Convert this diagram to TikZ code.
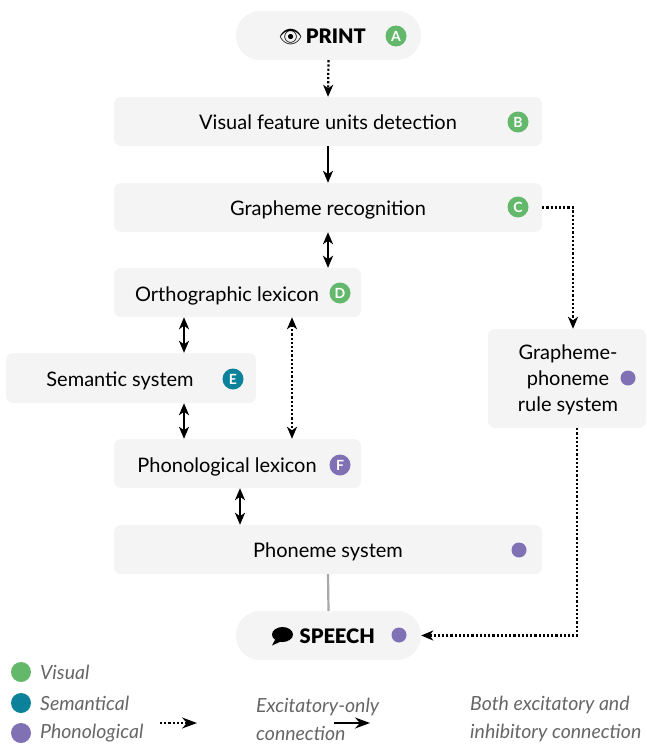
\documentclass[tikz,border=0pt]{standalone}
\usepackage{fontspec}
\setmainfont{Lato}
\newfontfamily\emojifont{Noto Emoji}
\IfFontExistsTF{Lato Black}{\newfontfamily\heavyfont{Lato Black}}{\newcommand\heavyfont{\bfseries}}
\usetikzlibrary{arrows.meta}
\definecolor{boxgray}{HTML}{F4F4F4}
\definecolor{vgreen}{HTML}{63B86C}
\definecolor{steal}{HTML}{0B8299}
\definecolor{ppurple}{HTML}{8071B5}
\definecolor{leggray}{HTML}{666666}
\definecolor{linegray}{HTML}{A8A8A8}
\begin{document}
\begin{tikzpicture}[x=1pt,y=-1pt,
  box/.style={fill=boxgray, draw=none, rounded corners=7pt, inner sep=0pt},
  pill/.style={fill=boxgray, draw=none, rounded corners=24pt, inner sep=0pt, minimum width=185pt, minimum height=49pt},
  lbl/.style={inner sep=0pt, font=\fontsize{20}{23}\selectfont, text=black, text height=14pt, text depth=0pt},
  badge/.style={circle, inner sep=0pt, minimum size=21pt, text=white, font=\fontsize{14}{15}\selectfont\bfseries},
  pdot/.style={circle, inner sep=0pt, minimum size=15pt, fill=ppurple},
  leg/.style={inner sep=0pt, anchor=west, align=left, text=leggray, font=\fontsize{19.5}{28}\selectfont\itshape},
  legdot/.style={circle, inner sep=0pt, minimum size=20pt},
  solidarrow/.style={line width=2.2pt, -{Stealth[length=12pt,width=10pt,inset=3.5pt]}},
  dbl/.style={line width=2.2pt, {Stealth[length=12pt,width=10pt,inset=3.5pt]}-{Stealth[length=12pt,width=10pt,inset=3.5pt]}},
  dotarrow/.style={line width=2.2pt, dotted, -{Stealth[length=12pt,width=10pt,inset=3.5pt]}},
  dotdbl/.style={line width=2.2pt, dotted, {Stealth[length=12pt,width=10pt,inset=3.5pt]}-{Stealth[length=12pt,width=10pt,inset=3.5pt]}},
]
\useasboundingbox (0,0) rectangle (646,744);

% PRINT
\node[pill] (print) at (328.5,35.5) {};
\node[lbl, font=\fontsize{20}{23}\selectfont\heavyfont, anchor=east] (printtxt) at (366,36) {{\emojifont\fontsize{19}{20}\selectfont 👁}\,PRINT};
\node[badge, fill=vgreen] (ba) at (396,36) {A};

% Visual feature units detection
\node[box, minimum width=428pt, minimum height=49pt] (vis) at (328,121.5) {};
\node[lbl] (vistxt) at (328,122) {Visual feature units detection};
\node[badge, fill=vgreen] (bb) at (518,122) {B};

% Grapheme recognition
\node[box, minimum width=428pt, minimum height=49pt] (gr) at (328,207.5) {};
\node[lbl] (grtxt) at (328,208) {Grapheme recognition};
\node[badge, fill=vgreen] (bc) at (518,207) {C};

% Orthographic lexicon
\node[box, minimum width=247pt, minimum height=49pt] (orth) at (237.5,292.5) {};
\node[lbl] (orthtxt) at (227,294) {Orthographic lexicon};
\node[badge, fill=vgreen] (bd) at (340,293) {D};

% Semantic system
\node[box, minimum width=250pt, minimum height=50pt] (sem) at (131,378) {};
\node[lbl] (semtxt) at (120,379) {Semantic system};
\node[badge, fill=steal] (be) at (233,379) {E};

% Phonological lexicon
\node[box, minimum width=247pt, minimum height=49pt] (phl) at (237.5,463.5) {};
\node[lbl] (phltxt) at (227,465) {Phonological lexicon};
\node[badge, fill=ppurple] (bf) at (340,465) {F};

% Phoneme system
\node[box, minimum width=428pt, minimum height=49pt] (phs) at (328,549.5) {};
\node[lbl] (phstxt) at (328,550) {Phoneme system};
\node[pdot] (dphs) at (519,550) {};

% Grapheme-phoneme rule system
\node[box, minimum width=158pt, minimum height=99pt] (rule) at (567,378.5) {};
\node[inner sep=0pt, align=center, font=\fontsize{20}{26}\selectfont] (ruletxt) at (568,380) {Grapheme-\\phoneme\\rule system};
\node[pdot] (drule) at (628,378) {};

% SPEECH
\node[pill] (speech) at (328.5,635.5) {};
\node[lbl, font=\fontsize{20}{23}\selectfont\heavyfont, anchor=east] (sptxt) at (375,636) {SPEECH};
\fill[black] (282.5,634.5) ellipse [x radius=10.5pt, y radius=7.5pt];
\fill[black] (276,638) -- (272,645.5) -- (282,641) -- cycle;
\node[pdot] (dsp) at (399,635) {};

% connectors
\draw[dotarrow] (print.south) -- (vis.north);
\draw[solidarrow] (vis.south) -- (gr.north);
\draw[dbl] (gr.south) -- (gr.south |- orth.north);
\draw[dbl] (orth.south -| 184,0) -- (sem.north -| 184,0);
\draw[dbl] (sem.south -| 184,0) -- (phl.north -| 184,0);
\draw[dotdbl] (orth.south -| 292,0) -- (phl.north -| 292,0);
\draw[dbl] (phl.south -| 240,0) -- (phs.north -| 240,0);
\draw[line width=2.2pt, linegray] (phs.south) -- (speech.north);
\draw[dotarrow] (gr.east) -| (rule.north -| 573,0);
\draw[dotarrow] (rule.south -| 577,0) |- (speech.east);

% legend
\node[legdot, fill=vgreen] (lv) at (21,672) {};
\node[legdot, fill=steal] (ls) at (21,703) {};
\node[legdot, fill=ppurple] (lp) at (21,733) {};
\node[leg] (lvt) at (40,672) {Visual};
\node[leg] (lst) at (40,703) {Semantical};
\node[leg] (lpt) at (40,733) {Phonological};
\coordinate (da1) at (160,723);
\coordinate (da2) at (197,723);
\draw[line width=2.2pt, dotted, -{Stealth[length=15pt,width=11pt,inset=5pt]}] (da1) -- (da2);
\node[leg] (lex) at (256,719) {Excitatory-only\\connection};
\coordinate (sa1) at (334,723);
\coordinate (sa2) at (370,723);
\draw[line width=2.8pt, -{Stealth[length=15pt,width=11pt,inset=5pt]}] (sa1) -- (sa2);
\node[leg] (lboth) at (470,719) {Both excitatory and\\inhibitory connection};
\end{tikzpicture}
\end{document}
